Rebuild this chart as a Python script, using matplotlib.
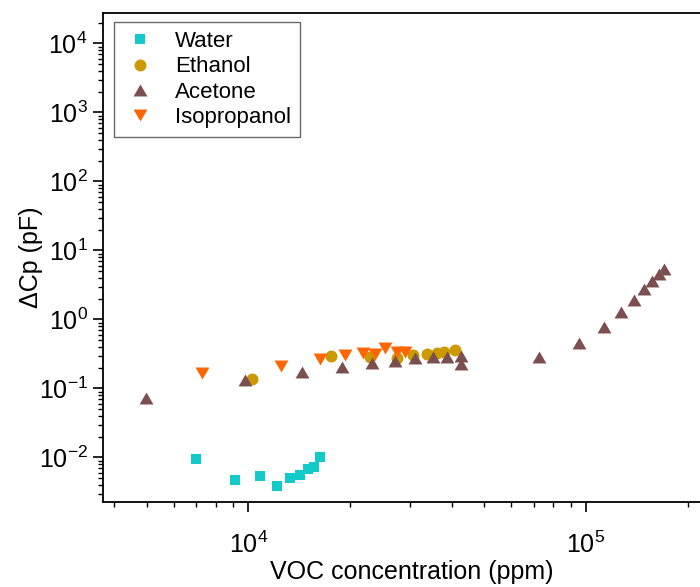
import matplotlib
matplotlib.use("Agg")
import matplotlib.pyplot as plt
from matplotlib.ticker import LogLocator, NullFormatter, FixedLocator

plt.rcParams['font.family'] = ['Liberation Sans', 'DejaVu Sans']
plt.rcParams['mathtext.fontset'] = 'custom'
plt.rcParams['mathtext.rm'] = 'Liberation Sans'
plt.rcParams['mathtext.it'] = 'Liberation Sans:italic'
plt.rcParams['axes.unicode_minus'] = False

water_x = [6976, 9139, 10838, 12168, 13299, 14235, 15039, 15666, 16317]
water_y = [0.0094, 0.00468, 0.00535, 0.00383, 0.0050, 0.00552, 0.0068, 0.0072, 0.0101]

ethanol_x = [10263, 17553, 22909, 27490, 30650, 33690, 36190, 37960, 40920]
ethanol_y = [0.139, 0.299, 0.283, 0.274, 0.306, 0.313, 0.324, 0.335, 0.361]

acetone_x = [4980, 9784, 14373, 18884, 23174, 27227, 31134, 35138, 38660, 42530,
             42530, 72730, 95520, 113050, 127200, 139000, 148850, 157200, 164900, 170300]
acetone_y = [0.0736, 0.133, 0.172, 0.203, 0.232, 0.248, 0.274, 0.283, 0.289, 0.299,
             0.224, 0.283, 0.452, 0.771, 1.27, 1.92, 2.74, 3.58, 4.52, 5.35]

iso_x = [7281, 12454, 16286, 19354, 21886, 23750, 25430, 27490, 29090]
iso_y = [0.166, 0.212, 0.265, 0.306, 0.324, 0.316, 0.383, 0.341, 0.341]

x_major = [1e4, 1e5]
y_major = [1e-2, 1e-1, 1e0, 1e1, 1e2, 1e3, 1e4]

c_water = '#12CACA'
c_eth = '#CC9900'
c_ace = '#7B4F4F'
c_iso = '#FF6600'

tri_up = [(-1, -0.86), (1, -0.86), (0, 0.86)]
tri_dn = [(-1, 0.86), (1, 0.86), (0, -0.86)]

fig = plt.figure(figsize=(7.0, 5.87), dpi=100)
W, H = 700, 587
left, right, top, bottom = 103, 720, 13, 501.5
ax = fig.add_axes([left / W, 1 - bottom / H, (right - left) / W, (bottom - top) / H])

ax.plot(water_x, water_y, linestyle='none', marker='s', markersize=7.4,
        color=c_water, markeredgewidth=0, label='Water')
ax.plot(ethanol_x, ethanol_y, linestyle='none', marker='o', markersize=8.6,
        color=c_eth, markeredgewidth=0, label='Ethanol')
ax.plot(acetone_x, acetone_y, linestyle='none', marker=tri_up, markersize=10,
        color=c_ace, markeredgewidth=0, label='Acetone')
ax.plot(iso_x, iso_y, linestyle='none', marker=tri_dn, markersize=10,
        color=c_iso, markeredgewidth=0, label='Isopropanol')

ax.set_xscale('log')
ax.set_yscale('log')
ax.set_xlim(3706, 2.495e5)
ax.set_ylim(0.002303, 27670)

ax.xaxis.set_major_locator(FixedLocator(x_major))
ax.xaxis.set_minor_locator(LogLocator(base=10, subs=range(2, 10), numticks=20))
ax.yaxis.set_major_locator(FixedLocator(y_major))
ax.yaxis.set_minor_locator(LogLocator(base=10, subs=range(2, 10), numticks=20))
ax.xaxis.set_minor_formatter(NullFormatter())
ax.yaxis.set_minor_formatter(NullFormatter())

for s in ['left', 'bottom', 'top', 'right']:
    ax.spines[s].set_linewidth(1.3)
    ax.spines[s].set_color('black')

ax.tick_params(which='major', direction='out', length=7, width=1.2, labelsize=18, pad=4)
ax.tick_params(axis='x', which='major', pad=15)
ax.tick_params(which='minor', direction='out', length=3.5, width=1.0)
ax.tick_params(top=False, right=False, which='both')

ax.set_xlabel('VOC concentration (ppm)', fontsize=18, labelpad=1)
ax.set_ylabel('ΔCp (pF)', fontsize=18, labelpad=-3)

leg = ax.legend(loc='upper left', bbox_to_anchor=(0.0178, 0.9816), borderaxespad=0,
                fontsize=16, frameon=True, fancybox=False, edgecolor='#444444',
                handlelength=1.54, handletextpad=0.8, labelspacing=0.2,
                borderpad=0.4, numpoints=1)
leg.get_frame().set_linewidth(1.0)

fig.savefig('out.png', dpi=100)
